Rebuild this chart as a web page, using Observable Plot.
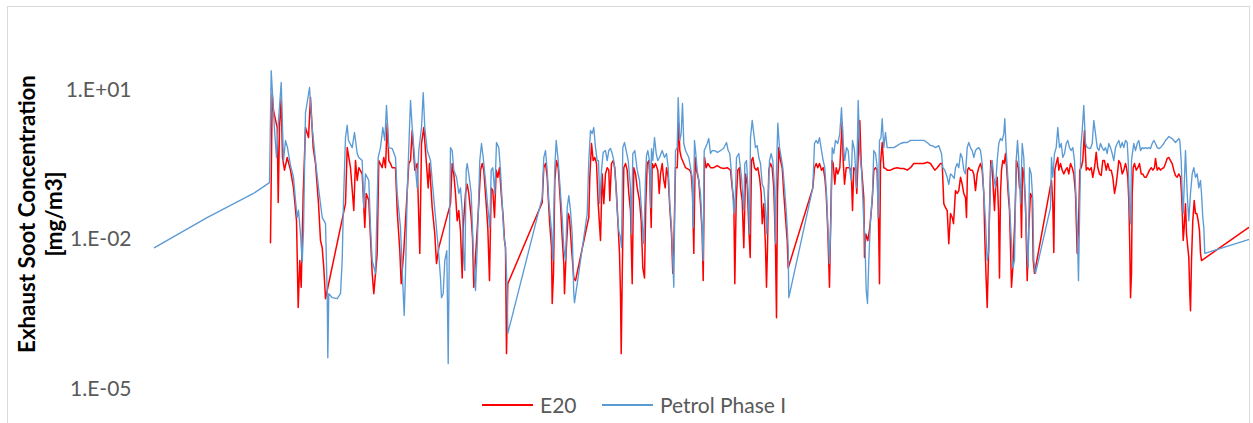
<!DOCTYPE html>
<html>
<head>
<meta charset="utf-8">
<script src="https://cdn.jsdelivr.net/npm/d3@7"></script>
<script src="https://cdn.jsdelivr.net/npm/@observablehq/plot@0.6"></script>
<style>
  body { margin: 0; background: #fff; font-family: Lato, "Open Sans", sans-serif; }
  #wrap { position: relative; width: 1253px; height: 423px; overflow: hidden; }
  #chart { position: absolute; left: 0; top: 0; }
  #frame { position: absolute; left: 7px; top: 6px; width: 1243px; height: 440px;
           border: 1px solid #d9d9d9; box-sizing: border-box; pointer-events: none; }
  #legend { position: absolute; left: 0; top: 393px; width: 1253px; height: 28px; }
  #legend .sw { position: absolute; top: 11px; width: 51px; height: 1.5px; }
  #legend .lab { position: absolute; top: -2px; font-size: 21px; color: #595959; line-height: 28px; }
</style>
</head>
<body>
<div id="wrap">
  <div id="chart"></div>
  <div id="legend"></div>
  <div id="frame"></div>
</div>
<script>
// Exhaust soot concentration over the test cycle, [time s, concentration mg/m3]
const e20Readings = [[117,0.0087],[118.7,8.7],[120,4.0],[123.7,1.8],[124.7,0.056],[126,1.8],[127.7,6.9],[129,0.45],[131,0.25],[133.7,0.45],[137,0.25],[140,0.11],[143,0.024],[144.7,0.00043],[146.3,0.0038],[147.7,0.0011],[149.7,0.085],[152,1.8],[155,1.13],[157,7.2],[159.7,0.71],[162,0.34],[165,0.053],[167,0.0096],[168.7,0.0069],[170.3,0.0027],[172,0.00065],[173.7,0.00095],[192,0.053],[193.7,0.71],[197,0.28],[200.3,0.0385],[202,0.39],[203.7,0.155],[205.3,0.28],[208.7,0.21],[211.3,0.0175],[212.7,0.085],[215.3,0.061],[217,0.011],[218.7,0.0021],[220.3,0.00082],[223.7,0.0053],[225.3,0.39],[228.7,0.28],[230.3,0.45],[232,0.28],[233.7,2.2],[235.3,0.39],[237,0.34],[238.7,0.28],[242,0.28],[243.7,0.0385],[246.3,0.0060],[247.7,0.0013],[250.3,0.0060],[255.3,0.34],[257,0.39],[258.7,1.57],[261.3,0.25],[263.7,0.34],[266.3,0.0053],[268,0.86],[270.3,1.8],[272.7,0.39],[274.7,0.11],[276,0.34],[278.7,0.044],[281.3,0.013],[283,0.0033],[285.3,0.0069],[297,0.053],[298.7,0.34],[300.3,0.21],[302,0.085],[303.7,0.024],[305.3,0.0385],[307,0.015],[308.7,0.0017],[309.7,0.0175],[312,0.085],[313.7,0.13],[315.3,0.085],[317.7,0.028],[319,0.011],[320.3,0.0011],[322,0.0044],[325.3,0.053],[327,0.25],[328.7,0.34],[330.3,0.25],[332.7,0.053],[334.3,0.0175],[336,0.0015],[337.7,0.11],[339.3,0.097],[341,0.028],[342.7,0.25],[344.3,0.18],[346,0.28],[347.7,0.085],[349.7,0.028],[351,0.0096],[352,0.0069],[353,0.000051],[354.3,0.0013],[388.7,0.056],[390.3,0.28],[392,0.34],[393.7,0.18],[396,0.024],[398,0.0069],[398.7,0.00052],[400,0.0021],[401.3,0.155],[403,0.39],[404.7,0.28],[407,0.053],[408.7,0.011],[410.3,0.0033],[411,0.00082],[412.7,0.0060],[414.7,0.0335],[416,0.028],[418,0.0069],[420.3,0.0017],[422,0.0015],[435.3,0.028],[436.3,0.18],[438,0.86],[439.7,0.39],[441.3,0.45],[443,0.34],[444.7,0.053],[447,0.0096],[448.7,0.21],[450.3,0.053],[452,0.21],[453.7,0.28],[455.3,0.25],[456.3,0.061],[458,0.34],[459.7,0.39],[461.3,0.28],[463,0.085],[464.7,0.0175],[466,0.0053],[467,0.00082],[467.7,0.000051],[468.7,0.0017],[470.3,0.28],[472,0.34],[473.7,0.25],[475.3,0.085],[477,0.0385],[478.7,0.0013],[480.3,0.28],[482,0.21],[483.7,0.11],[486,0.061],[487.7,0.024],[489.3,0.0027],[491,0.0017],[492.3,0.053],[493.7,0.34],[495.3,0.39],[496.3,0.18],[497.7,0.0175],[498.7,0.34],[500.3,0.28],[502,0.34],[504.3,0.25],[505.7,0.085],[507,0.21],[508.7,0.34],[510.3,0.155],[511.7,0.11],[513,0.28],[514.7,0.18],[516.3,0.044],[518,0.013],[519.3,0.0021],[520.3,0.0069],[522,0.28],[523.7,0.28],[525.3,2.2],[526.3,0.62],[527.7,0.45],[529,0.39],[530.3,0.34],[532,0.28],[536.3,0.25],[537.7,0.21],[539,0.085],[540.3,0.0053],[541.7,0.45],[543,0.25],[545.3,0.155],[547,0.053],[548.7,0.013],[549.7,0.0015],[551,0.45],[552.7,0.28],[554.3,0.34],[557,0.28],[560.3,0.28],[563.7,0.31],[567,0.28],[570.3,0.27],[573.7,0.28],[577,0.25],[578.7,0.11],[580.3,0.061],[581.3,0.0013],[582.7,0.061],[584.3,0.25],[586,0.28],[587,0.11],[588.7,0.061],[590.3,0.0069],[592,0.21],[593.7,0.13],[595.3,0.0175],[596.7,0.0044],[598,0.39],[599.3,0.45],[601,0.28],[602.7,0.25],[604.3,0.28],[606,0.18],[607.7,0.085],[608.7,0.021],[610.3,0.053],[612,0.0069],[613,0.0011],[614,0.0069],[615.3,0.25],[617,0.34],[618.7,0.28],[620.3,0.11],[622,0.0069],[623,0.00027],[624,0.085],[625.3,0.71],[627,0.39],[628.7,0.28],[630.3,0.085],[632,0.028],[633.7,0.0096],[634.7,0.0027],[659.3,0.11],[661,0.28],[662.7,0.34],[664.3,0.28],[666,0.34],[668,0.25],[669.7,0.28],[671.3,0.18],[672.7,0.085],[674.3,0.015],[676,0.0011],[677.7,0.085],[678.5,0.39],[679.7,0.34],[681.3,0.13],[682.7,0.28],[684.3,0.21],[686.3,0.28],[688.7,2.3],[689.7,0.39],[691,0.13],[692.7,0.28],[694.3,0.28],[696,0.28],[697.7,0.25],[699,0.0385],[700.3,0.28],[702,0.25],[703.3,0.085],[705,0.71],[706.3,2.5],[707.7,0.34],[709,0.155],[710.3,0.070],[711,0.0044],[712.3,0.013],[714.3,0.0096],[716.3,0.0175],[718.7,0.061],[720.3,0.25],[722,0.28],[723.7,0.25],[725,0.024],[726,0.0013],[727,0.34],[728.7,0.90],[730.3,0.28],[732,0.27],[733.7,0.25],[737,0.25],[740.3,0.27],[743.7,0.28],[747,0.27],[750.3,0.27],[753.7,0.25],[757,0.28],[760.3,0.34],[763.7,0.34],[767,0.34],[770.3,0.34],[773.7,0.36],[777,0.34],[781.3,0.25],[783.7,0.28],[787,0.34],[788.7,0.34],[790.3,0.053],[792,0.044],[793.7,0.0385],[795.3,0.0083],[797,0.0335],[798.7,0.028],[800,0.021],[802,0.097],[803.7,0.085],[805.3,0.097],[807,0.18],[808.7,0.13],[810.3,0.085],[812,0.070],[813,0.028],[814,0.25],[815.3,0.28],[817,0.25],[818.7,0.25],[820.3,0.21],[822,0.097],[823.7,0.21],[825.3,0.28],[827,0.34],[828.7,0.25],[830.3,0.085],[831.3,0.011],[832.7,0.0015],[833.7,0.00043],[834.7,0.0027],[836,0.0385],[837.3,0.39],[838.7,0.28],[840,0.085],[841,0.0385],[842,0.11],[843.7,0.18],[845,0.0385],[846,0.0017],[847,0.085],[848,0.25],[849.3,0.39],[850.7,0.34],[852,0.54],[853.3,0.25],[854.7,0.085],[856,0.0385],[857,0.0069],[858,0.0011],[859.3,0.0027],[861.3,0.024],[863,0.39],[864.7,0.28],[866,0.11],[867,0.13],[868,0.011],[869,0.28],[870.3,0.21],[872,0.053],[873.7,0.0015],[875.3,0.0175],[877,0.085],[878.7,0.070],[879.7,0.0038],[881,0.0021],[898,0.155],[899.3,0.053],[900.3,0.0055],[901.3,0.25],[902.7,0.34],[904.3,0.45],[905.3,0.25],[907,0.34],[908.7,0.25],[910.3,0.21],[912,0.25],[913.7,0.28],[915.3,0.21],[917,0.34],[918.7,0.28],[920.3,0.21],[922,0.085],[923.7,0.0053],[925,0.0175],[926.3,0.25],[927.7,0.28],[929.3,0.39],[931,1.57],[932.7,0.25],[934.3,0.28],[936,0.25],[937.7,0.28],[939.3,0.18],[941,0.28],[942.7,0.57],[944.3,0.28],[946,0.21],[947.7,0.195],[949.3,0.39],[951,0.39],[952.7,0.25],[954.3,0.34],[956,0.25],[957.7,0.25],[959.3,0.18],[961,0.085],[962.7,0.13],[964.3,0.25],[965.3,0.39],[967,0.34],[968.7,0.21],[970.3,0.25],[972,0.34],[973,0.28],[974.3,0.18],[975.3,0.061],[976.3,0.0069],[977,0.00068],[978,0.0021],[978.7,0.085],[979.7,0.28],[981,0.34],[982.7,0.25],[984.3,0.28],[986,0.34],[987.7,0.21],[989.3,0.21],[991,0.18],[992.7,0.18],[994.3,0.21],[996,0.25],[997.7,0.28],[999.3,0.25],[1001,0.28],[1002,0.43],[1003.7,0.25],[1005.3,0.28],[1007,0.25],[1008.7,0.27],[1010.3,0.28],[1012,0.34],[1013.7,0.43],[1015.3,0.45],[1017,0.39],[1018.7,0.34],[1020.3,0.25],[1022,0.195],[1023.7,0.18],[1025.3,0.21],[1027,0.18],[1028,0.085],[1028.7,0.0385],[1029.7,0.0096],[1030.7,0.0175],[1032,0.053],[1033,0.013],[1034.3,0.0069],[1035.3,0.0044],[1036.3,0.00082],[1037,0.00037],[1038,0.0038],[1039.3,0.024],[1040.7,0.061],[1042,0.0335],[1043.3,0.0335],[1044.7,0.024],[1046,0.015],[1047,0.0053],[1048,0.0038],[1095,0.0175]];

const petrolReadings = [[1,0.0069],[54,0.028],[100,0.085],[116,0.14],[117.7,25],[119,8.7],[121,1.6],[123,0.45],[125,2.5],[127.7,14.5],[130,0.39],[132,0.99],[134,0.71],[137,0.31],[140,0.18],[142,0.061],[143.7,0.028],[145,0.039],[147,0.013],[148.7,0.0035],[150,0.015],[152,3.6],[154,6.3],[156,11.5],[158.7,1.8],[162,0.39],[165,0.11],[168.7,0.028],[172,0.021],[173.7,0.00082],[174.3,0.000042],[175.3,0.00082],[178.7,0.00068],[183.7,0.00065],[187,0.00082],[188.7,0.0038],[190,0.061],[192,1.13],[193.7,2.0],[195,0.99],[198.7,0.71],[201,1.43],[203.7,0.54],[205.3,0.45],[208.7,0.39],[210.3,0.044],[212,0.21],[215.3,0.155],[217,0.0175],[218.7,0.0038],[222,0.0021],[224.7,0.45],[227,0.71],[229.3,1.8],[231.3,0.99],[233,5.0],[235.3,0.71],[238.7,0.68],[242,0.45],[243.7,0.085],[247,0.0175],[248.7,0.0024],[250.7,0.00030],[252,0.0021],[253.7,0.085],[255.3,0.71],[257,6.3],[258.7,1.8],[261.3,0.39],[263.7,0.11],[265.3,0.62],[268,1.8],[269.7,9.1],[271.3,1.8],[273.7,0.62],[277,0.39],[279.3,0.11],[282,0.028],[284.7,0.0069],[287,0.0017],[288,0.00068],[289.7,0.00082],[291.3,0.0038],[293.3,0.0060],[294.7,0.000032],[296,0.015],[297,0.71],[298.7,0.62],[300.3,0.25],[303,0.18],[305.3,0.085],[307,0.11],[308.7,0.0385],[310.3,0.0038],[311.3,0.0024],[312.7,0.25],[313.7,0.34],[315.3,0.21],[317.7,0.085],[319.7,0.0069],[322,0.00095],[323.7,0.0069],[326.3,0.39],[328,0.86],[329.7,0.45],[332,0.155],[334.3,0.044],[336.3,0.0175],[337.7,0.25],[339.3,0.28],[341.3,0.085],[343,0.90],[345.3,0.71],[347,0.25],[348.7,0.053],[350.3,0.013],[352,0.0069],[353.7,0.00095],[354.3,0.00013],[388.7,0.070],[390.3,0.45],[392,0.62],[393.7,0.25],[395.3,0.061],[398,0.015],[399.3,0.0038],[401.3,0.28],[402.7,0.99],[404.7,0.39],[407,0.085],[408.7,0.028],[410.3,0.0069],[412,0.0038],[413.7,0.044],[415.3,0.077],[417,0.0385],[418.7,0.013],[420.3,0.00082],[421,0.00054],[433.7,0.0335],[435.3,0.39],[437,1.57],[438.7,1.36],[440.3,1.8],[442,0.71],[443.7,0.39],[445,0.39],[446.3,0.053],[448,0.25],[449.7,0.57],[452,0.62],[453.7,0.39],[455.3,0.62],[457,0.68],[458.7,0.54],[460.3,0.39],[462,0.155],[463.7,0.0385],[465.3,0.015],[467,0.011],[468,0.0069],[469.3,0.71],[471,0.90],[472.7,0.62],[474.7,0.39],[477,0.11],[478,0.013],[479.3,0.54],[481.3,0.62],[483.7,0.25],[486,0.155],[488,0.0385],[489.7,0.011],[490.3,0.0083],[492,0.18],[493,0.49],[494.3,0.62],[496,0.39],[497,0.044],[498,0.68],[499.3,0.39],[501,1.13],[502.7,0.54],[504.3,0.39],[506,0.45],[508.7,0.62],[511,0.45],[513,0.54],[514.7,0.28],[516.3,0.053],[518,0.0175],[519.3,0.0038],[520.3,0.0011],[522,0.62],[523.7,0.71],[524.7,7.2],[526.3,0.99],[527.7,1.36],[529,5.5],[530.3,0.86],[532,0.62],[535.3,0.45],[537,0.28],[538.7,0.18],[539.7,0.0175],[541,0.99],[542.3,0.54],[543.7,0.25],[545.3,0.155],[547,0.085],[548.7,0.015],[549.7,0.0038],[550.7,0.62],[552,0.71],[553.7,0.86],[555.3,1.08],[557,0.54],[558.7,0.62],[561,0.62],[564,0.57],[567,0.62],[570,0.68],[573,0.90],[574.7,0.62],[576.3,0.54],[577.7,0.25],[579,0.11],[580.3,0.0335],[581.7,0.061],[583,0.45],[585.3,0.54],[588,0.18],[590.3,0.0385],[591.3,0.34],[593,0.39],[594.7,0.085],[596,0.013],[597,1.13],[598.7,2.5],[600.3,1.36],[602,0.71],[603.7,0.78],[605.3,0.45],[607,0.34],[608.7,0.13],[610.3,0.11],[612,0.044],[613.3,0.013],[614.7,0.085],[616,0.39],[617.7,0.54],[619.3,0.39],[621,0.11],[622,0.0083],[623,0.25],[624.3,2.2],[626,0.71],[627.7,0.45],[629.3,0.28],[631,0.11],[632.7,0.0385],[633.7,0.0175],[634.7,0.0069],[635.3,0.00068],[659.3,0.11],[661,0.86],[662.7,0.99],[664.3,0.86],[666,1.13],[668,0.62],[669.7,0.39],[671.3,0.28],[673,0.085],[674.7,0.013],[676,0.0033],[677.7,0.0385],[678.7,0.71],[680.3,0.54],[682,0.99],[684.3,0.86],[686.3,1.36],[688,4.5],[689.7,0.86],[691.3,0.39],[693,0.71],[694.7,0.62],[696.3,0.25],[697.7,0.155],[699,0.99],[701,0.62],[703,0.11],[704.7,6.3],[706.3,0.54],[708,0.25],[709.3,0.070],[710.3,0.021],[711.3,0.013],[712.7,0.00095],[714,0.00052],[715.3,0.0038],[717,0.024],[719,0.085],[720.3,0.62],[722,0.54],[723.5,0.31],[724.7,0.028],[726,0.99],[727.5,1.13],[728.7,2.7],[730.3,0.71],[732,1.43],[733.7,0.71],[737,0.71],[740.3,0.71],[743.7,0.78],[747,0.86],[750.3,0.90],[753.7,0.90],[757,0.99],[760.3,0.99],[763.7,0.99],[767,0.99],[770.3,0.99],[773.7,0.90],[777,0.78],[778.7,0.78],[782,0.71],[785.3,0.78],[788,0.54],[789.3,0.28],[791.3,0.25],[793.7,0.18],[795.3,0.13],[797,0.21],[798.7,0.195],[800.7,0.17],[802,0.28],[803.7,0.34],[805.3,0.28],[807,0.54],[808.7,0.45],[810.3,0.25],[812,0.21],[813.7,0.71],[815.3,0.90],[817,0.71],[818.7,0.62],[820.3,0.45],[822,0.62],[823.7,0.68],[825.3,0.71],[827,0.62],[828.7,0.34],[830.3,0.085],[832,0.024],[833.7,0.0038],[835.3,0.0060],[837,0.25],[838.7,0.39],[840.3,0.18],[842,0.11],[843.7,0.39],[845.3,0.86],[847,1.08],[848.7,0.99],[850.3,1.36],[851.3,2.7],[852.7,0.62],[854.3,0.18],[856,0.053],[857.7,0.011],[859.3,0.0027],[861,0.0038],[862.7,0.39],[864,0.99],[865.3,0.39],[867,0.053],[868.7,0.86],[870.3,0.45],[872,0.0385],[873.7,0.0053],[874.7,0.0027],[876,0.28],[877.7,0.21],[879.3,0.061],[880.3,0.0038],[882,0.0021],[897,0.044],[898,0.45],[899.3,0.18],[901,0.54],[902.7,0.71],[904.3,1.8],[906,0.71],[907.7,0.86],[909.3,0.45],[911,0.54],[912.7,0.86],[914.3,0.99],[916,0.71],[917.7,0.62],[919.3,0.71],[921,0.39],[922.3,0.085],[923.7,0.0175],[925,0.0015],[926,0.024],[927.3,0.71],[928.7,1.57],[930.3,5.0],[932,0.86],[933.7,0.71],[937,0.68],[938.7,0.86],[940.3,2.5],[942,1.36],[943.7,0.71],[945.3,0.62],[947,0.86],[948.7,0.71],[950.3,0.62],[952,0.71],[953.7,0.54],[955.3,0.86],[957,0.71],[958.7,0.54],[960.3,0.39],[962,0.71],[963.7,0.86],[965.3,0.99],[967,0.71],[968.7,0.90],[970.3,0.71],[972,0.99],[973.7,0.90],[974.7,0.39],[976,0.044],[977,0.021],[978,0.39],[979.3,0.62],[980.3,0.86],[982,0.62],[983.7,0.86],[985.3,0.99],[987,0.62],[988.7,0.71],[990.3,0.68],[992,0.71],[993.7,0.68],[995.3,0.71],[997,0.68],[998.7,0.86],[1000.3,0.99],[1002,0.86],[1003.7,0.71],[1005.3,0.68],[1007,0.71],[1008.7,0.78],[1010.3,0.86],[1012,0.99],[1013.7,1.08],[1015.3,1.19],[1017,1.13],[1018.7,1.08],[1020.3,0.99],[1022,0.90],[1023.7,0.99],[1025.3,1.08],[1026.3,0.99],[1027.7,0.39],[1028.7,0.085],[1029.7,0.0335],[1031,0.18],[1032,0.62],[1033.7,0.085],[1035.3,0.024],[1037,0.085],[1038.7,0.21],[1040.3,0.28],[1042,0.18],[1043.7,0.21],[1045.3,0.11],[1047,0.155],[1048,0.085],[1049.3,0.028],[1050.3,0.0175],[1051.3,0.0053],[1095,0.010]];

const seriesNames = ["E20", "Petrol Phase I"];
const seriesColors = ["#ff0000", "#5b9bd5"];
const yTickValues = [1e-5, 1e-2, 1e1];
const yTitle = ["Exhaust Soot Concentration", "[mg/m3]"];

// Excel-style scientific labels: 1.E+01, 1.E-02 ...
const sci = d => {
  const e = Math.round(Math.log10(d));
  return "1.E" + (e < 0 ? "-" : "+") + String(Math.abs(e)).padStart(2, "0");
};

const toRows = arr => arr.map(([t, v]) => ({t, v}));

const chart = Plot.plot({
  width: 1253,
  height: 423,
  marginLeft: 153,
  marginRight: 0,
  marginTop: 40.3,
  marginBottom: 34.7,
  style: {fontFamily: "Lato, 'Open Sans', sans-serif", fontSize: "21px", color: "#595959", background: "transparent"},
  x: {domain: [0, 1100], axis: null},
  y: {type: "log", domain: [1e-5, 1e2], ticks: yTickValues, tickFormat: sci, tickSize: 0, tickPadding: 22, label: null},
  marks: [
    Plot.line(toRows(e20Readings), {x: "t", y: "v", stroke: seriesColors[0], strokeWidth: 1.5}),
    Plot.line(toRows(petrolReadings), {x: "t", y: "v", stroke: seriesColors[1], strokeWidth: 1.35})
  ]
});
document.getElementById("chart").appendChild(chart);

// rotated two-line axis title
const svg = d3.select(chart);
svg.selectAll(".yt").data(yTitle).join("text")
  .attr("class", "yt")
  .attr("transform", (d, i) => `translate(${35 + i * 27},214) rotate(-90)`)
  .attr("text-anchor", "middle")
  .style("font-family", "Lato, 'Open Sans', sans-serif")
  .style("font-weight", "bold")
  .style("font-size", "22.3px")
  .style("fill", "#000")
  .text(d => d);

// legend below the plot
const legendPos = [{line: 482, text: 540}, {line: 602, text: 660}];
const legend = d3.select("#legend");
seriesNames.forEach((name, i) => {
  legend.append("div").attr("class", "sw")
    .style("left", legendPos[i].line + "px").style("background", seriesColors[i]);
  legend.append("div").attr("class", "lab")
    .style("left", legendPos[i].text + "px").text(name);
});
</script>
</body>
</html>
